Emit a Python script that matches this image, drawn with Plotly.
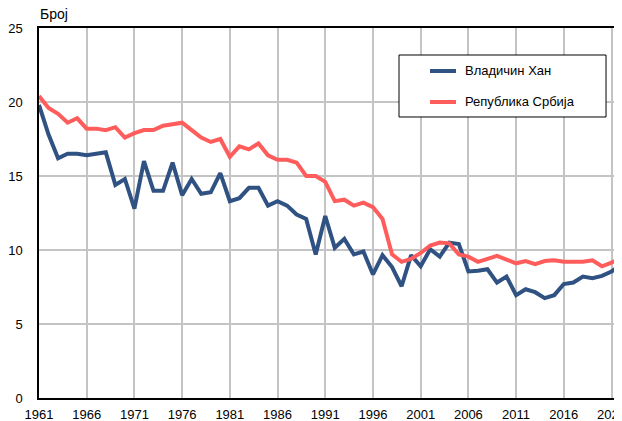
import plotly.graph_objects as go

years = list(range(1961, 2023))
vladicin_han = [19.8, 17.8, 16.2, 16.5, 16.5, 16.4, 16.5, 16.6, 14.4, 14.8,
                12.8, 16.0, 14.0, 14.0, 15.9, 13.7, 14.8, 13.8, 13.9, 15.2,
                13.3, 13.5, 14.2, 14.2, 13.0, 13.3, 13.0, 12.4, 12.1, 9.7,
                12.3, 10.15, 10.75, 9.7, 9.9, 8.35, 9.65, 8.85, 7.55, 9.65,
                8.9, 10.05, 9.55, 10.5, 10.4, 8.55, 8.6, 8.7, 7.8, 8.2,
                6.95, 7.35, 7.15, 6.75, 6.95, 7.7, 7.8, 8.2, 8.1, 8.25,
                8.55, 9.0]
srbija = [20.4, 19.6, 19.2, 18.6, 18.9, 18.2, 18.2, 18.1, 18.3, 17.6,
          17.9, 18.1, 18.1, 18.4, 18.5, 18.6, 18.1, 17.6, 17.3, 17.5,
          16.3, 17.0, 16.8, 17.2, 16.4, 16.1, 16.1, 15.9, 15.0, 15.0,
          14.6, 13.3, 13.4, 13.0, 13.2, 12.9, 12.1, 9.7, 9.2, 9.4,
          9.8, 10.3, 10.5, 10.45, 9.7, 9.55, 9.2, 9.4, 9.6, 9.35,
          9.1, 9.25, 9.05, 9.25, 9.3, 9.2, 9.2, 9.2, 9.3, 8.9,
          9.15, 9.45]
series_names = ["Владичин Хан", "Република Србија"]
series_colors = ["#2F5283", "#FF5C5C"]
x_ticks = list(range(1961, 2022, 5))
y_ticks = [0, 5, 10, 15, 20, 25]

fig = go.Figure()
for i, (name, vals) in enumerate(zip(series_names, [vladicin_han, srbija])):
    fig.add_trace(go.Scatter(
        x=years, y=vals, mode="lines", name=name,
        line=dict(color=series_colors[i], width=4),
    ))

# custom legend box (paper coordinates)
shapes = [dict(type="rect", xref="paper", yref="paper",
               x0=0.6175, x1=0.9726, y0=0.7595, y1=0.927,
               line=dict(color="black", width=1), fillcolor="white", layer="above")]
annotations = [dict(
    text="Број", xref="paper", yref="paper", x=0, y=1.038, xshift=-1,
    xanchor="left", yanchor="middle", showarrow=False, font=dict(size=14),
)]
row_y = [0.8838, 0.80]
for i, name in enumerate(series_names):
    shapes.append(dict(type="line", xref="paper", yref="paper",
                       x0=0.6707, x1=0.7153, y0=row_y[i], y1=row_y[i],
                       line=dict(color=series_colors[i], width=4), layer="above"))
    annotations.append(dict(text=name, xref="paper", yref="paper",
                            x=0.7273, y=row_y[i], xanchor="left", yanchor="middle",
                            showarrow=False, font=dict(size=13)))

fig.update_layout(
    width=622, height=421,
    margin=dict(l=31, r=8, t=20, b=31),
    paper_bgcolor="white", plot_bgcolor="white",
    font=dict(family="Liberation Sans, Arial, sans-serif", size=13, color="black"),
    showlegend=False,
    shapes=shapes,
    annotations=annotations,
    xaxis=dict(
        range=[1961, 2022.1], tickmode="array", tickvals=x_ticks,
        ticktext=[str(t) for t in x_ticks], automargin=False,
        showgrid=True, gridcolor="#c4c4c4", gridwidth=1.5,
        showline=True, linecolor="black", linewidth=1.5, mirror=True,
        ticks="", ticklabelstandoff=4, zeroline=False,
        ticklabeloverflow="allow",
    ),
    yaxis=dict(
        range=[0, 25], tickmode="array", tickvals=y_ticks, automargin=False,
        showgrid=True, gridcolor="#c4c4c4", gridwidth=1.5,
        showline=True, linecolor="black", linewidth=1.5, mirror=True,
        ticks="", ticklabelstandoff=12, zeroline=False,
    ),
)

fig.write_html("out.html")
